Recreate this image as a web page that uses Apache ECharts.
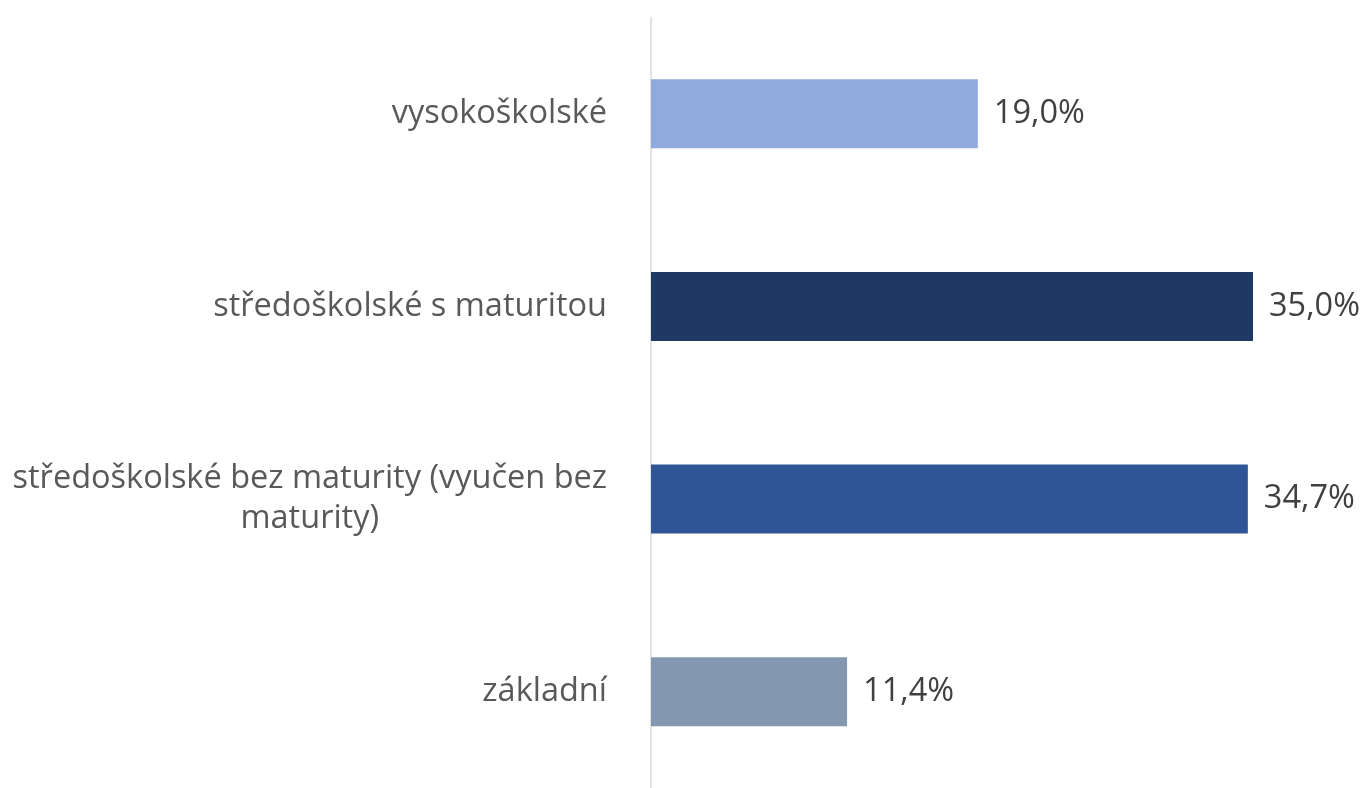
<!DOCTYPE html>
<html>
<head>
<meta charset="utf-8">
<script src="https://cdn.jsdelivr.net/npm/echarts@6/dist/echarts.min.js"></script>
<style>
    html, body {margin: 0; padding: 0; background: #fff;}
    #chart {width: 1368px; height: 788px;}
</style>
</head>
<body>
<div id="chart"></div>
<script>
//数据
var categories = ['vysokoškolské', 'středoškolské s maturitou', 'středoškolské bez maturity (vyučen bez\nmaturity)', 'základní']
var values = [19.0, 35.0, 34.7, 11.4]
var colors = ['#8FAADC', '#203864', '#2F5597', '#8497B0']

var chart = echarts.init(document.getElementById('chart'))

chart.setOption({
    animation: false,
    grid: {
        left: 651,
        right: 29,
        top: 17.5,
        bottom: 0
    },
    xAxis: {
        type: 'value',
        min: 0,
        max: 40,
        show: false
    },
    yAxis: {
        type: 'category',
        inverse: true,
        data: categories,
        axisLine: {
            lineStyle: {color: '#D9D9D9', width: 1.5}
        },
        axisTick: {show: false},
        axisLabel: {
            margin: 44,
            color: '#595959',
            fontFamily: 'Open Sans',
            fontSize: 32.5,
            lineHeight: 40,
            formatter: (v) => v.split('\n').map(s => `{c|${s}}`).join('\n'),
            rich: {
                c: {
                    align: 'center',
                    color: '#595959',
                    fontFamily: 'Open Sans',
                    fontSize: 32.5,
                    lineHeight: 40
                }
            }
        }
    },
    series: [
        {
            type: 'bar',
            barWidth: 69,
            data: values.map((v, i) => ({value: v, itemStyle: {color: colors[i]}})),
            label: {
                show: true,
                position: 'right',
                distance: 16,
                color: '#404040',
                fontFamily: 'Open Sans',
                fontSize: 32.5,
                formatter: (p) => p.value.toFixed(1).replace('.', ',') + '%'
            }
        }
    ]
})
</script>
</body>
</html>
